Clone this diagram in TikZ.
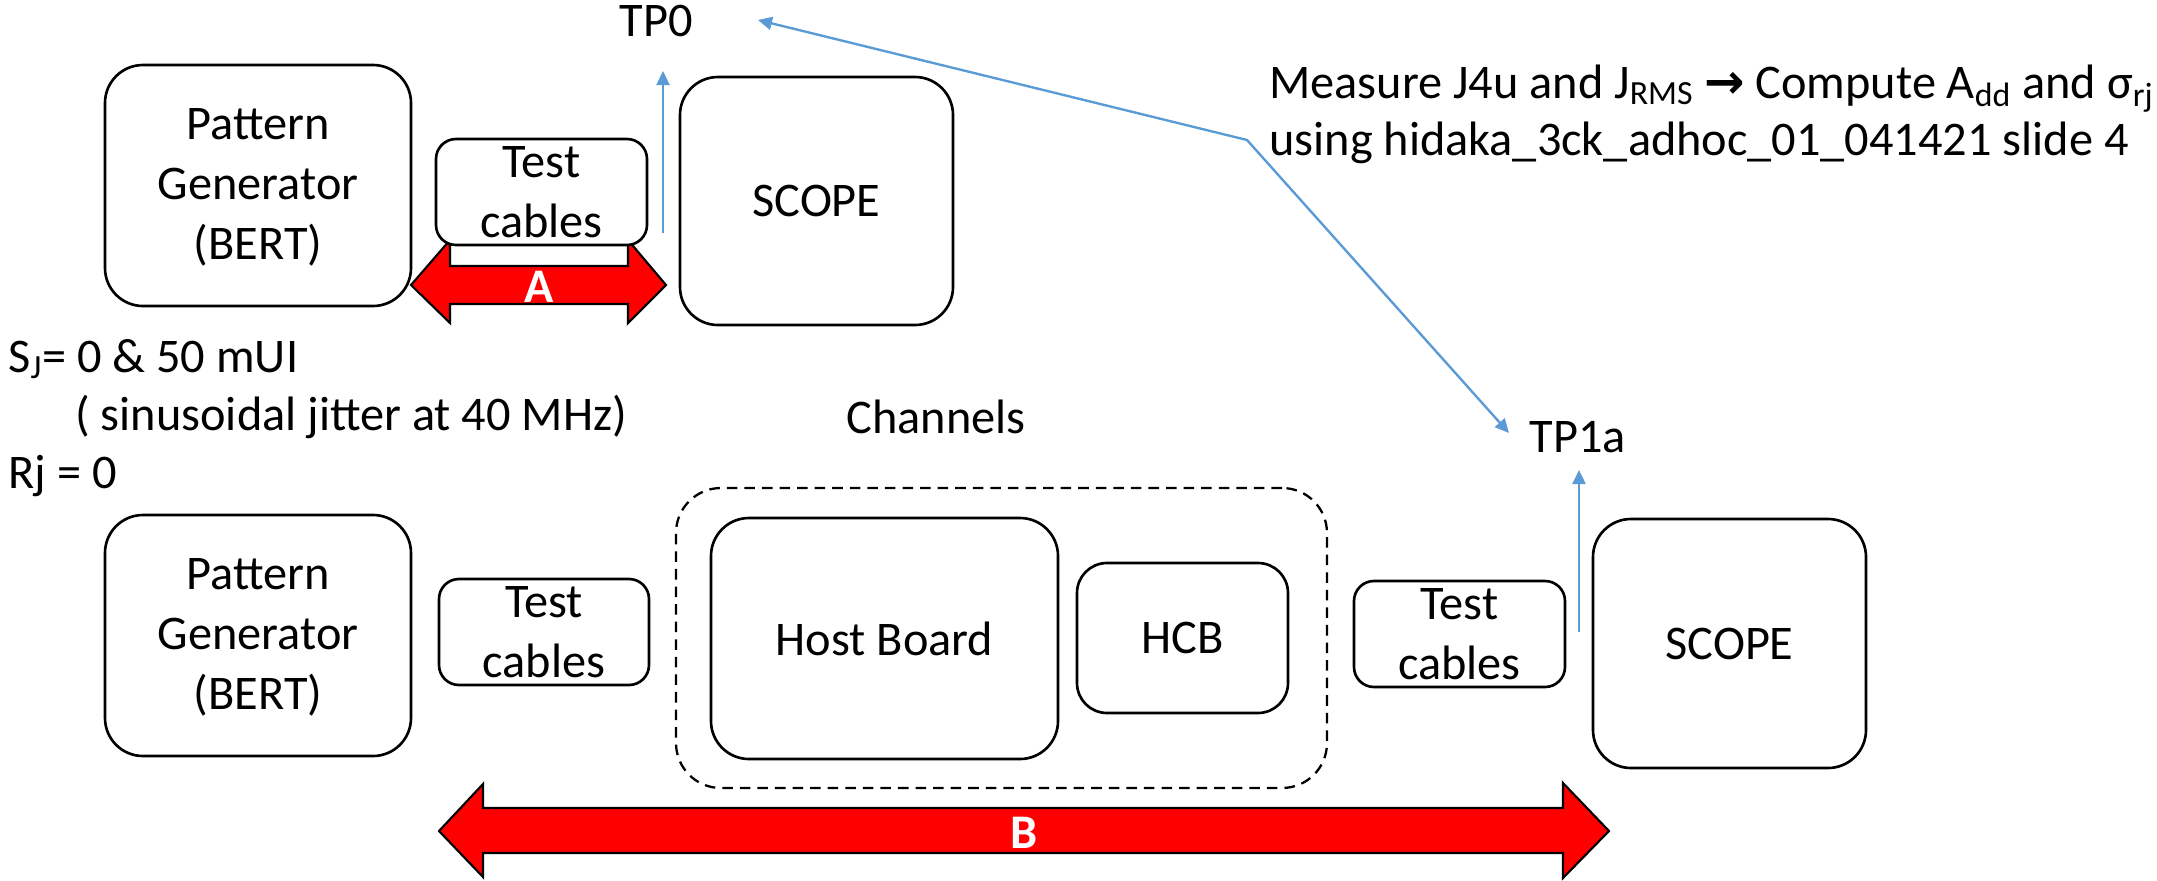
\documentclass[tikz,border=0pt]{standalone}
\usepackage{fontspec}
\setmainfont{Carlito}
\newfontfamily\symfont{DejaVu Sans}
\usetikzlibrary{arrows.meta,fit}
\definecolor{lineblue}{RGB}{91,155,213}
\begin{document}
\begin{tikzpicture}[x=0.02cm,y=-0.02cm,
  every node/.style={font=\fontsize{27.5}{34}\selectfont, inner sep=0pt},
  box/.style={draw, line width=1.5pt, fill=white, inner sep=0pt},
  bigbox/.style={box, rounded corners=0.76cm},
  smallbox/.style={box, rounded corners=0.4cm},
  midbox/.style={box, rounded corners=0.6cm},
  boxtext/.style={align=center},
  redarrow/.style={draw=black, fill=red, line width=1.2pt, line join=miter},
  arrlabel/.style={text=white, font=\fontsize{27.5}{34}\selectfont\bfseries},
  blueline/.style={draw=lineblue, line width=1.35pt},
  bluetip/.style={blueline, -{Triangle[length=0.28cm,width=0.26cm]}},
  txt/.style={anchor=base west}
]
\useasboundingbox (0,0) rectangle (2157,880);

% red double arrows
\draw[redarrow] (411,285) -- (450,240) -- (450,266) -- (628,266) -- (628,240)
  -- (666,285) -- (628,323) -- (628,304) -- (450,304) -- (450,323) -- cycle;
\node[arrlabel] (lblA) at (539,287) {A};
\draw[redarrow] (439,831) -- (483,784) -- (483,808) -- (1563,808) -- (1563,783)
  -- (1609,831) -- (1563,878) -- (1563,853) -- (483,853) -- (483,877) -- cycle;
\node[arrlabel] (lblB) at (1024,833) {B};

% top row
\node[bigbox, fit={(105,65)(411,306)}] (pg1) {};
\node[boxtext] (pg1t) at ([yshift=-0.04cm]pg1.center) {Pattern\\Generator\\(BERT)};
\node[smallbox, fit={(436,139)(647,245)}] (tc1) {};
\node[boxtext] (tc1t) at (tc1.center) {Test\\cables};
\node[bigbox, fit={(680,77)(953,325)}] (sc1) {};
\node[boxtext] (sc1t) at (sc1.center) {SCOPE};

% bottom row
\node[draw, dash pattern=on 6pt off 4pt, line width=1.3pt, rounded corners=0.9cm,
  fit={(676,488)(1327,788)}] (chan) {};
\node[bigbox, fit={(105,515)(411,756)}] (pg2) {};
\node[boxtext] (pg2t) at ([yshift=-0.04cm]pg2.center) {Pattern\\Generator\\(BERT)};
\node[smallbox, fit={(439,579)(649,685)}] (tc2) {};
\node[boxtext] (tc2t) at (tc2.center) {Test\\cables};
\node[bigbox, fit={(711,518)(1058,759)}] (hb) {};
\node[boxtext] (hbt) at (hb.center) {Host Board};
\node[midbox, fit={(1077,563)(1288,713)}] (hcb) {};
\node[boxtext] (hcbt) at (hcb.center) {HCB};
\node[smallbox, fit={(1354,581)(1565,687)}] (tc3) {};
\node[boxtext] (tc3t) at (tc3.center) {Test\\cables};
\node[bigbox, fit={(1593,519)(1866,768)}] (sc2) {};
\node[boxtext] (sc2t) at (sc2.center) {SCOPE};

% labels
\node[anchor=base] (tp0) at (656,36) {TP0};
\node[anchor=base] (tp1a) at (1578,452) {TP1a};
\node[anchor=base] (chl) at (936,433) {Channels};
\node[txt] (sj) at (8,372) {S\textsubscript{J}= 0 \& 50 mUI};
\node[txt] (sin) at (75,430) {( sinusoidal jitter at 40 MHz)};
\node[txt] (rj) at (8,488) {Rj = 0};
\node[txt] (m1) at (1269,98) {Measure J4u and J\textsubscript{RMS} {\symfont\bfseries →} Compute A\textsubscript{dd} and σ\textsubscript{rj}};
\node[txt] (m2) at (1269,155) {using hidaka\_3ck\_adhoc\_01\_041421 slide 4};

% blue connectors
\coordinate (up0s) at (663,233);
\coordinate (up0e) at (663,71);
\coordinate (up1s) at (1579,632);
\coordinate (up1e) at (1579,470);
\coordinate (tp0tip) at (758,20);
\coordinate (bend) at (1247,140);
\coordinate (tp1tip) at (1509,433);
\draw[bluetip] (up0s) -- (up0e);
\draw[bluetip] (up1s) -- (up1e);
\draw[blueline, {Triangle[length=0.28cm,width=0.26cm]}-{Triangle[length=0.28cm,width=0.26cm]}, line join=miter]
  (tp0tip) -- (bend) -- (tp1tip);
\end{tikzpicture}
\end{document}
